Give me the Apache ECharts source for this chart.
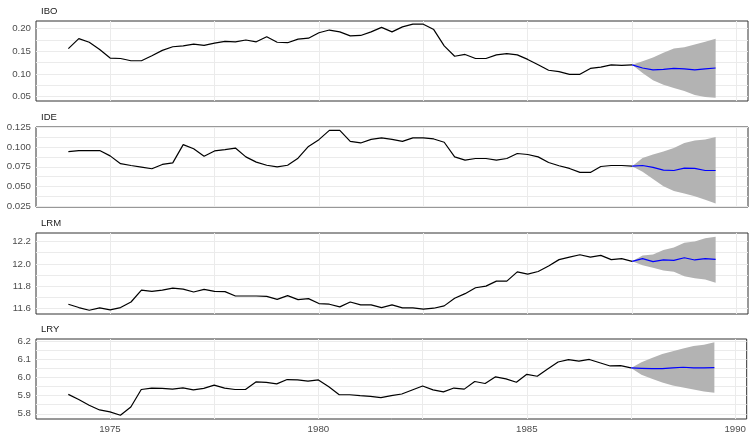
<!DOCTYPE html>
<html><head><meta charset="utf-8">
<script src="https://cdn.jsdelivr.net/npm/echarts@6/dist/echarts.min.js"></script>
<style>html,body{margin:0;padding:0;background:#fff}#c{width:749px;height:434px}</style>
</head><body><div id="c"></div>
<script>
// quarterly observations 1974Q1 .. 1987Q3
const startYear = 1974;
const ibo = [0.156,0.178,0.170,0.154,0.135,0.134,0.129,0.129,0.140,0.152,0.160,0.162,0.166,0.163,0.168,0.172,0.171,0.175,0.171,0.182,0.170,0.169,0.177,0.179,0.191,0.197,0.193,0.184,0.185,0.193,0.203,0.193,0.204,0.210,0.210,0.198,0.162,0.139,0.143,0.134,0.134,0.142,0.145,0.142,0.132,0.120,0.108,0.105,0.099,0.099,0.112,0.115,0.120,0.119,0.120];
const ide = [0.0945,0.0958,0.0958,0.0958,0.089,0.079,0.0767,0.0746,0.0725,0.078,0.080,0.1034,0.098,0.0886,0.0953,0.097,0.099,0.0877,0.081,0.077,0.075,0.077,0.086,0.101,0.1097,0.1216,0.1216,0.1076,0.1055,0.110,0.112,0.110,0.1076,0.112,0.112,0.1106,0.1064,0.0877,0.0835,0.0856,0.0856,0.0835,0.0856,0.092,0.0907,0.0877,0.0805,0.0763,0.0729,0.0678,0.0678,0.0754,0.0767,0.0767,0.0758];
const lrm = [11.637,11.607,11.583,11.604,11.586,11.607,11.657,11.764,11.752,11.764,11.782,11.773,11.747,11.770,11.752,11.750,11.711,11.711,11.711,11.708,11.681,11.714,11.678,11.687,11.643,11.637,11.613,11.657,11.631,11.631,11.607,11.631,11.604,11.604,11.592,11.601,11.622,11.690,11.732,11.785,11.800,11.845,11.845,11.928,11.907,11.931,11.981,12.038,12.061,12.082,12.061,12.076,12.038,12.047,12.023];
const lry = [5.907,5.879,5.847,5.821,5.810,5.792,5.837,5.934,5.942,5.940,5.936,5.943,5.932,5.940,5.958,5.942,5.934,5.934,5.976,5.973,5.965,5.989,5.987,5.980,5.987,5.949,5.905,5.905,5.900,5.896,5.889,5.900,5.909,5.931,5.953,5.932,5.921,5.942,5.936,5.978,5.967,6.004,5.993,5.974,6.018,6.007,6.047,6.086,6.099,6.091,6.100,6.082,6.064,6.066,6.053];

// forecasts 1987Q4 .. 1989Q3 (mean, upper, lower)
const iboFc = [0.113,0.109,0.110,0.112,0.111,0.109,0.111,0.113];
const iboUp = [0.128,0.136,0.147,0.156,0.159,0.165,0.171,0.178];
const iboLo = [0.102,0.086,0.076,0.069,0.062,0.053,0.049,0.047];
const ideFc = [0.0767,0.0742,0.0708,0.0703,0.0733,0.0729,0.0703,0.0703];
const ideUp = [0.0864,0.0907,0.0945,0.0992,0.1055,0.1085,0.110,0.113];
const ideLo = [0.0686,0.0593,0.050,0.044,0.041,0.0373,0.033,0.028];
const lrmFc = [12.047,12.020,12.035,12.032,12.055,12.035,12.047,12.041];
const lrmUp = [12.076,12.085,12.124,12.148,12.189,12.201,12.231,12.243];
const lrmLo = [11.987,11.966,11.940,11.928,11.889,11.871,11.859,11.830];
const lryFc = [6.051,6.049,6.049,6.053,6.057,6.053,6.053,6.055];
const lryUp = [6.084,6.108,6.130,6.146,6.161,6.174,6.181,6.195];
const lryLo = [6.016,5.993,5.973,5.956,5.945,5.934,5.923,5.916];

const panelNames = ['IBO','IDE','LRM','LRY'];
const xMajor = [1975,1980,1985,1990];
const xGrid = [1975,1977.5,1980,1982.5,1985,1987.5,1990];
const yMajor = [[0.05,0.10,0.15,0.20],[0.025,0.050,0.075,0.100,0.125],[11.6,11.8,12.0,12.2],[5.8,5.9,6.0,6.1,6.2]];
const yGrid = [[0.05,0.075,0.10,0.125,0.15,0.175,0.20],[0.025,0.0375,0.05,0.0625,0.075,0.0875,0.10,0.1125,0.125],[11.6,11.7,11.8,11.9,12.0,12.1,12.2],[5.8,5.85,5.9,5.95,6.0,6.05,6.1,6.15,6.2]];
const yDecimals = [2,3,1,1];
const yRange = [[0.0400,0.2170],[0.0236,0.1259],[11.549,12.2775],[5.771,6.213]];
const xRange = [1973.225,1990.275];

const obs = [ibo,ide,lrm,lry];
const fc = [iboFc,ideFc,lrmFc,lryFc];
const up = [iboUp,ideUp,lrmUp,lryUp];
const lo = [iboLo,ideLo,lrmLo,lryLo];

const tops = [21,127,233,339];
const heights = [80,80,81,81];

const grids=[], xAxes=[], yAxes=[], series=[], titles=[];
for (let p=0;p<4;p++){
  grids.push({left:36,right:1,top:tops[p],height:heights[p],show:true,borderColor:'#333333',borderWidth:1,backgroundColor:'transparent'});
  xAxes.push({type:'value',gridIndex:p,min:xRange[0],max:xRange[1],
    axisLine:{show:false},
    axisTick:{show:false,customValues:xGrid},
    axisLabel:{show:p===3,customValues:xMajor,color:'#4D4D4D',fontSize:9.7,fontFamily:'Liberation Sans, Arial, sans-serif',margin:5,formatter:v=>String(v)},
    splitLine:{show:true,lineStyle:{color:'#EBEBEB',width:1}}});
  yAxes.push({type:'value',gridIndex:p,min:yRange[p][0],max:yRange[p][1],
    axisLine:{show:false},
    axisTick:{show:false,customValues:yGrid[p]},
    axisLabel:{customValues:yMajor[p],color:'#4D4D4D',fontSize:9.7,fontFamily:'Liberation Sans, Arial, sans-serif',margin:5,formatter:v=>Number(v).toFixed(yDecimals[p])},
    splitLine:{show:true,lineStyle:{color:'#EBEBEB',width:1}}});
  titles.push({text:panelNames[p],left:41,top:tops[p]-15,padding:0,textStyle:{fontSize:9.5,fontWeight:'normal',color:'#1A1A1A',fontFamily:'Liberation Sans, Arial, sans-serif'}});

  const o = obs[p];
  const obsData = o.map((v,i)=>[startYear+i/4, v]);
  const lastT = startYear+(o.length-1)/4, lastV = o[o.length-1];
  const fcT = [lastT].concat(fc[p].map((v,i)=>lastT+(i+1)/4));
  const fcData = fcT.map((t,i)=>[t, i===0?lastV:fc[p][i-1]]);
  const upV = [lastV].concat(up[p]);
  const loV = [lastV].concat(lo[p]);
  const bandData = fcT.map((t,i)=>[t, loV[i], upV[i]]);

  series.push({type:'custom',xAxisIndex:p,yAxisIndex:p,silent:true,z:1,
    data:[[lastT,lastV]],
    renderItem:(params,api)=>{
      const pts=[];
      for (let i=0;i<bandData.length;i++) pts.push(api.coord([bandData[i][0],bandData[i][2]]));
      for (let i=bandData.length-1;i>=0;i--) pts.push(api.coord([bandData[i][0],bandData[i][1]]));
      return {type:'polygon',shape:{points:pts},style:{fill:'#B3B3B3'}};
    }});
  series.push({type:'line',xAxisIndex:p,yAxisIndex:p,data:obsData,showSymbol:false,silent:true,z:3,
    lineStyle:{color:'#000000',width:1.2}});
  series.push({type:'line',xAxisIndex:p,yAxisIndex:p,data:fcData,showSymbol:false,silent:true,z:4,
    lineStyle:{color:'#0000FF',width:1.2}});
}

const chart = echarts.init(document.getElementById('c'),null,{renderer:'canvas'});
chart.setOption({animation:false,backgroundColor:'#ffffff',title:titles,grid:grids,xAxis:xAxes,yAxis:yAxes,series:series});
</script></body></html>
